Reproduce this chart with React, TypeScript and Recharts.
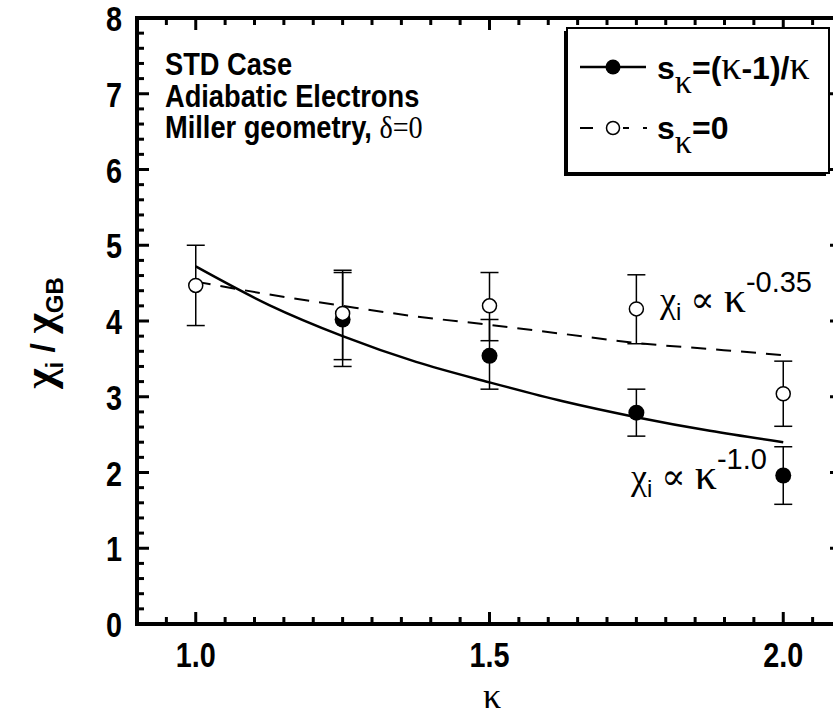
import React from "react";
import { ComposedChart, Line, Scatter, XAxis, YAxis, ErrorBar } from "recharts";

// measured points (kappa scan)
const kappa = [1.0, 1.25, 1.5, 1.75, 2.0];
const chiFilled = [null, 4.02, 3.54, 2.79, 1.96];
const filledLow = [null, 3.4, 3.1, 2.48, 1.58];
const filledHigh = [null, 4.64, 4.02, 3.1, 2.34];
const chiOpen = [4.47, 4.1, 4.2, 4.16, 3.04];
const openLow = [3.94, 3.49, 3.74, 3.7, 2.61];
const openHigh = [5.0, 4.67, 4.64, 4.61, 3.47];

// fitted curves
const fitKappa = [1.0, 1.125, 1.25, 1.375, 1.5, 1.625, 1.75, 1.875, 2.0];
const fitPow10 = [4.72, 4.21, 3.8, 3.46, 3.19, 2.94, 2.73, 2.55, 2.4];
const fitPow035 = [4.52, 4.35, 4.2, 4.06, 3.95, 3.83, 3.71, 3.63, 3.55];

const xMajor = [1.0, 1.5, 2.0];
const xTickLabels = ["1.0", "1.5", "2.0"];
const yMajor = [0, 1, 2, 3, 4, 5, 6, 7, 8];

const BOLD = "'Liberation Sans', Arial, sans-serif";
const SANS = "'Liberation Sans', Arial, sans-serif";
const SERIF = "'Liberation Serif', 'DejaVu Serif', serif";

const r2 = (v: number) => Math.round(v * 100) / 100;

const xTicks: number[] = [];
for (let i = 1; i < 24; i++) xTicks.push(r2(0.9 + i * 0.05));
const yTicks: number[] = [];
for (let i = 0; i <= 40; i++) yTicks.push(r2(i * 0.2));

const filledData = kappa
  .map((k, i) => ({ k, v: chiFilled[i], err: [0, 0] as number[] }))
  .filter((d, i) => {
    if (d.v == null) return false;
    d.err = [r2(d.v - (filledLow[i] as number)), r2((filledHigh[i] as number) - d.v)];
    return true;
  });
const openData = kappa.map((k, i) => ({
  k,
  v: chiOpen[i],
  err: [r2(chiOpen[i] - openLow[i]), r2(openHigh[i] - chiOpen[i])],
}));
const solidFit = fitKappa.map((k, i) => ({ k, v: fitPow10[i] }));
const dashFit = fitKappa.map((k, i) => ({ k, v: fitPow035[i] }));

const makeXTick = (side: "bottom" | "top") => (props: any) => {
  const { x, y, payload } = props;
  const v = r2(payload.value);
  const mi = xMajor.indexOf(v);
  const len = mi >= 0 ? 12 : 7;
  const dir = side === "bottom" ? -1 : 1;
  return (
    <g>
      <line x1={x} x2={x} y1={y} y2={y + dir * len} stroke="#000" strokeWidth={3} />
      {side === "bottom" && mi >= 0 && (
        <text
          transform={`translate(${x},${y + 43}) scale(0.9,1.1)`}
          textAnchor="middle"
          fontFamily={BOLD}
          fontWeight="bold"
          fontSize={32}
          fill="#000"
        >
          {xTickLabels[mi]}
        </text>
      )}
    </g>
  );
};

const makeYTick = (side: "left" | "right") => (props: any) => {
  const { x, y, payload } = props;
  const v = r2(payload.value);
  const major = yMajor.includes(v);
  const len = major ? 12 : 7;
  const dir = side === "left" ? 1 : -1;
  const edge = v === 0 || v === 8;
  return (
    <g>
      {!edge && <line x1={x} x2={x + dir * len} y1={y} y2={y} stroke="#000" strokeWidth={3} />}
      {side === "left" && major && (
        <text
          transform={`translate(${x - 15},${y + 13}) scale(0.9,1.1)`}
          textAnchor="end"
          fontFamily={BOLD}
          fontWeight="bold"
          fontSize={32}
          fill="#000"
        >
          {v}
        </text>
      )}
    </g>
  );
};

const FilledDot = (p: any) => <circle cx={p.cx} cy={p.cy} r={8} fill="#000" />;
const OpenDot = (p: any) => <circle cx={p.cx} cy={p.cy} r={7} fill="#fff" stroke="#000" strokeWidth={1.5} />;

const axisStyle = { stroke: "#000", strokeWidth: 4, strokeLinecap: "square" as const };

function Overlay() {
  return (
    <svg width={833} height={719} style={{ position: "absolute", left: 0, top: 0, pointerEvents: "none" }}>
      {/* case description */}
      <g transform="translate(165,0) scale(0.94,1.05)" fontFamily={BOLD} fontWeight="bold" fontSize={29} fill="#000">
        <text x={0} y={71.5}>STD Case</text>
        <text x={0} y={101.5}>Adiabatic Electrons</text>
        <text x={0} y={131.5}>
          Miller geometry,{" "}
          <tspan fontFamily={SERIF} fontWeight="normal" fontSize={30}>δ=0</tspan>
        </text>
      </g>

      {/* legend */}
      <rect x={564} y={31} width={262} height={145} fill="#000" />
      <rect x={567} y={28} width={262} height={145} fill="#fff" stroke="#000" strokeWidth={2} />
      <line x1={580} x2={646} y1={67} y2={67} stroke="#000" strokeWidth={2.5} />
      <circle cx={613} cy={67} r={7.5} fill="#000" />
      <text x={657} y={79} fontFamily={BOLD} fontWeight="bold" fontSize={32} fill="#000">
        s
        <tspan fontFamily={SERIF} fontWeight="normal" fontSize={34} dy={14}>κ</tspan>
        <tspan dy={-14}>=(</tspan>
        <tspan fontFamily={SERIF} fontWeight="normal" fontSize={40}>κ</tspan>
        <tspan>-1)/</tspan>
        <tspan fontFamily={SERIF} fontWeight="normal" fontSize={40}>κ</tspan>
      </text>
      <line x1={580} x2={647} y1={128} y2={128} stroke="#000" strokeWidth={2} strokeDasharray="13 30 6 14 6 10" />
      <circle cx={613} cy={128} r={6.5} fill="#fff" stroke="#000" strokeWidth={1.5} />
      <text x={657} y={139} fontFamily={BOLD} fontWeight="bold" fontSize={32} fill="#000">
        s
        <tspan fontFamily={SERIF} fontWeight="normal" fontSize={34} dy={14}>κ</tspan>
        <tspan dy={-14}>=0</tspan>
      </text>

      {/* scaling annotations */}
      <text x={660} y={312} fontFamily={SERIF} fontSize={36} fill="#000">
        χ<tspan fontFamily={SANS} fontSize={24} dy={8}>i</tspan>
        <tspan dy={-8}> ∝ </tspan>
        <tspan fontSize={44}>κ</tspan>
        <tspan fontFamily={SANS} fontSize={29} dy={-20}>-0.35</tspan>
      </text>
      <text x={631} y={489} fontFamily={SERIF} fontSize={36} fill="#000">
        χ<tspan fontFamily={SANS} fontSize={24} dy={8}>i</tspan>
        <tspan dy={-8}> ∝ </tspan>
        <tspan fontSize={44}>κ</tspan>
        <tspan fontFamily={SANS} fontSize={29} dy={-20}>-1.0</tspan>
      </text>

      {/* axis titles */}
      <text x={492} y={708} textAnchor="middle" fontFamily={SERIF} fontSize={36} fill="#000">κ</text>
      <text
        transform="translate(54,333) rotate(-90)"
        textAnchor="middle"
        fontFamily={BOLD}
        fontWeight="bold"
        fontSize={34}
        fill="#000"
      >
        <tspan fontFamily={SERIF} fontSize={44}>χ</tspan>
        <tspan fontSize={24} dy={9}>i</tspan>
        <tspan dy={-9}> / </tspan>
        <tspan fontFamily={SERIF} fontSize={44}>χ</tspan>
        <tspan fontSize={24} dy={9}>GB</tspan>
      </text>
    </svg>
  );
}

export default function App() {
  return (
    <div style={{ position: "absolute", left: 0, top: 0, width: 833, height: 719, overflow: "hidden", background: "#fff" }}>
      <ComposedChart width={870} height={719} margin={{ top: 17, right: 27, bottom: 0, left: 37 }}>
        <XAxis
          dataKey="k"
          type="number"
          domain={[0.9, 2.1]}
          ticks={xTicks}
          interval={0}
          height={95}
          tickSize={0}
          tickMargin={0}
          axisLine={axisStyle}
          tickLine={false}
          tick={makeXTick("bottom")}
        />
        <XAxis
          xAxisId="top"
          orientation="top"
          dataKey="k"
          type="number"
          domain={[0.9, 2.1]}
          ticks={xTicks}
          interval={0}
          height={1}
          tickSize={0}
          tickMargin={0}
          axisLine={axisStyle}
          tickLine={false}
          tick={makeXTick("top")}
        />
        <YAxis
          type="number"
          domain={[0, 8]}
          ticks={yTicks}
          interval={0}
          width={100}
          tickSize={0}
          tickMargin={0}
          axisLine={axisStyle}
          tickLine={false}
          tick={makeYTick("left")}
        />
        <YAxis
          yAxisId="right"
          orientation="right"
          type="number"
          domain={[0, 8]}
          ticks={yTicks}
          interval={0}
          width={1}
          tickSize={0}
          tickMargin={0}
          axisLine={axisStyle}
          tickLine={false}
          tick={makeYTick("right")}
        />
        {/* invisible copy so the top / right frame axes have a series bound to them */}
        <Line
          data={dashFit}
          dataKey="v"
          xAxisId="top"
          yAxisId="right"
          stroke="none"
          strokeOpacity={0}
          dot={false}
          activeDot={false}
          legendType="none"
          isAnimationActive={false}
        />
        <Line data={solidFit} dataKey="v" type="monotone" stroke="#000" strokeWidth={2.5} dot={false} isAnimationActive={false} />
        <Line
          data={dashFit}
          dataKey="v"
          type="monotone"
          stroke="#000"
          strokeWidth={2}
          strokeDasharray="15 10"
          dot={false}
          isAnimationActive={false}
        />
        <Scatter data={filledData} dataKey="v" shape={FilledDot} isAnimationActive={false}>
          <ErrorBar dataKey="err" direction="y" width={9} stroke="#000" strokeWidth={1.5} />
        </Scatter>
        <Scatter data={openData} dataKey="v" shape={OpenDot} isAnimationActive={false}>
          <ErrorBar dataKey="err" direction="y" width={9} stroke="#000" strokeWidth={1.5} />
        </Scatter>
      </ComposedChart>
      <Overlay />
    </div>
  );
}
